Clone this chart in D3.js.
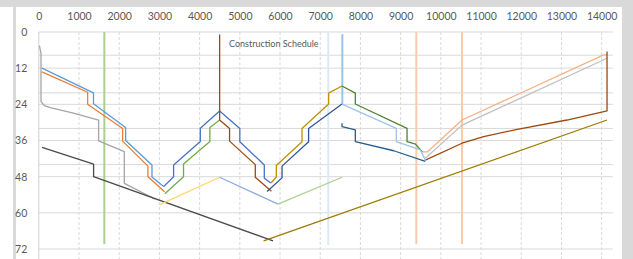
<!DOCTYPE html>
<html><head><meta charset="utf-8">
<script src="https://cdn.jsdelivr.net/npm/d3@7"></script>
<style>body{margin:0;background:#fff}svg{display:block}</style>
</head><body>
<svg id="c" width="633" height="259"></svg>
<script>
// ---- data (distance, hours) ----
const xTickValues = [0,1000,2000,3000,4000,5000,6000,7000,8000,9000,10000,11000,12000,13000,14000];
const yTickValues = [0,12,24,36,48,60,72];
const shiftLines = [7.7,20.2,32,44];
const chartTitle = "Construction Schedule";

const seriesLightBlue = [[80,12],[1360,20.2],[1360,23.8],[2160,31.7],[2160,36],[2815,44.1],[2815,48.1],[3105,51.3]];
const seriesOrange = [[80,13.2],[1215,20],[1215,24],[2085,32],[2085,36.2],[2715,44.5],[2715,48],[3130,53]];
const seriesGray = [[15,4.5],[55,7.2],[55,23.1],[137,24.4],[286,25.1],[860,26.9],[1488,29.2],[1488,36.1],[2127,39.7],[2127,50.2],[2900,55.5]];
const seriesDarkGray = [[80,38.3],[1363,43.8],[1363,48],[5826,69.3]];
const seriesBlue = [[3105,51.3],[3353,48],[3353,44.1],[4017,36.3],[4017,31.9],[4498,26.2],[5000,32],[5000,36.4],[5609,44.1],[5609,48.5],[5771,50.1]];
const seriesGreen = [[3135,53.7],[3600,48],[3600,43.8],[4255,36.3],[4255,31.7],[4498,29.2]];
const seriesBrownLeft = [[4498,0.8],[4498,29.2],[4745,32],[4745,36.2],[5385,44],[5385,48.2],[5785,52.8]];
const seriesGold = [[3022,57.2],[4498,48.2]];
const seriesPeriwinkle = [[4498,48.2],[5950,57.1]];
const seriesLightGreen = [[5950,57.1],[7542,48.2]];
const seriesDarkGold = [[5592,69.3],[14134,29.2]];
const seriesOlive = [[5776,50.1],[5908,48.1],[5908,44.3],[6547,36.4],[6547,32],[7209,23.9],[7209,20.3],[7542,17.9]];
const seriesDarkGreen = [[7542,17.9],[7873,20.3],[7873,23.9],[9160,32],[9160,36.4],[9370,37.2],[9540,39.8]];
const seriesNavy = [[5677,52.9],[6050,48.4],[6050,44.5],[6711,36.4],[6711,32],[7542,23.9]];
const seriesSky = [[7542,23.9],[8893,32],[8893,36.4],[9490,39.1],[9614,42.5]];
const seriesSteel = [[7542,30.3],[7542,31.4],[7873,32.5],[7873,36.4],[8830,39.4],[9614,42.9]];
const seriesBrownRight = [[9614,42.5],[10527,36.9],[11065,34.7],[11900,32.3],[13140,29.2],[14134,26.2],[14134,6.5]];
const seriesLightOrange = [[9540,39.8],[9665,39.8],[10527,29.2],[14050,7.6],[14134,7.6]];
const seriesSilver = [[9614,41.9],[10527,30.9],[14134,8.7]];

const markerPositions = [1630,7200,7550,9390,10527];
const markerStarts = [0,0,0.7,0,0];
const markerEnds = [70.4,70.7,23.9,70.4,70.4];

// ---- drawing ----
const svg = d3.select("#c");
const W=633, H=259;
const FONT = "Lato,'Liberation Sans',Arial,sans-serif";
const x = d3.scaleLinear().domain([0,14280]).range([38.8,612.9]);
const y = d3.scaleLinear().domain([0,75]).range([32,258.05]);

svg.append("rect").attr("width",W).attr("height",H).attr("fill","#fff");
// frame
svg.append("rect").attr("x",0).attr("y",0).attr("width",W).attr("height",7).attr("fill","#d9d9d9");
svg.append("rect").attr("x",13).attr("y",0).attr("width",3).attr("height",H).attr("fill","#d9d9d9");
svg.append("rect").attr("x",622).attr("y",0).attr("width",11).attr("height",H).attr("fill","#d9d9d9");

const grid = svg.append("g");
grid.selectAll(".vg").data(xTickValues.slice(1)).join("line")
  .attr("x1",d=>x(d)).attr("x2",d=>x(d)).attr("y1",y(0)).attr("y2",H)
  .attr("stroke","#d9d9d9").attr("stroke-width",1).attr("stroke-dasharray","3,2");
grid.selectAll(".hg").data(yTickValues.concat(shiftLines)).join("line")
  .attr("x1",x(0)).attr("x2",x(14280)).attr("y1",d=>y(d)).attr("y2",d=>y(d))
  .attr("stroke","#d9d9d9").attr("stroke-width",1);
grid.append("line").attr("x1",x(0)).attr("x2",x(0)).attr("y1",y(0)).attr("y2",H)
  .attr("stroke","#d0d0d0").attr("stroke-width",1);

const xAxis = svg.append("g").attr("transform",`translate(0,${y(0)})`)
  .call(d3.axisTop(x).tickValues(xTickValues).tickSize(0).tickPadding(12.5).tickFormat(d3.format("d")));
const yAxis = svg.append("g").attr("transform",`translate(${x(0)},0)`)
  .call(d3.axisLeft(y).tickValues(yTickValues).tickSize(0).tickPadding(11.5));
[xAxis,yAxis].forEach(a=>{
  a.select(".domain").remove();
  a.selectAll("text").attr("fill","#595959").style("font-family",FONT).style("font-size","10.5px");
});

svg.append("text").attr("x",229).attr("y",47).text(chartTitle)
  .attr("fill","#595959").style("font-family",FONT).style("font-size","9px");

// vertical markers
const markerColors = ["#a9d18e","#dce9f6","#9dc3e6","#f8cbad","#f8cbad"];
svg.append("g").selectAll("line").data(markerPositions).join("line")
  .attr("x1",d=>x(d)).attr("x2",d=>x(d))
  .attr("y1",(d,i)=>y(markerStarts[i])).attr("y2",(d,i)=>y(markerEnds[i]))
  .attr("stroke",(d,i)=>markerColors[i]).attr("stroke-width",2);

const line = d3.line().x(d=>x(d[0])).y(d=>y(d[1]));
const seriesList = [
  [seriesGray,"#a5a5a5"],
  [seriesDarkGray,"#4a4a4a"],
  [seriesGold,"#ffd966"],
  [seriesPeriwinkle,"#8faadc"],
  [seriesLightGreen,"#a9d18e"],
  [seriesDarkGold,"#9c7a00"],
  [seriesSilver,"#c0c0c0"],
  [seriesLightOrange,"#f4b183"],
  [seriesBrownRight,"#9e480e"],
  [seriesLightBlue,"#5b9bd5"],
  [seriesOrange,"#ed7d31"],
  [seriesBlue,"#4472c4"],
  [seriesGreen,"#70ad47"],
  [seriesBrownLeft,"#9e480e"],
  [seriesOlive,"#bf9000"],
  [seriesNavy,"#2f5597"],
  [seriesDarkGreen,"#548235"],
  [seriesSky,"#9dc3e6"],
  [seriesSteel,"#255e91"]
];
svg.append("g").selectAll("path").data(seriesList).join("path")
  .attr("d",d=>line(d[0])).attr("fill","none").attr("stroke",d=>d[1])
  .attr("stroke-width",1.3).attr("stroke-linejoin","round");
</script>
</body></html>
